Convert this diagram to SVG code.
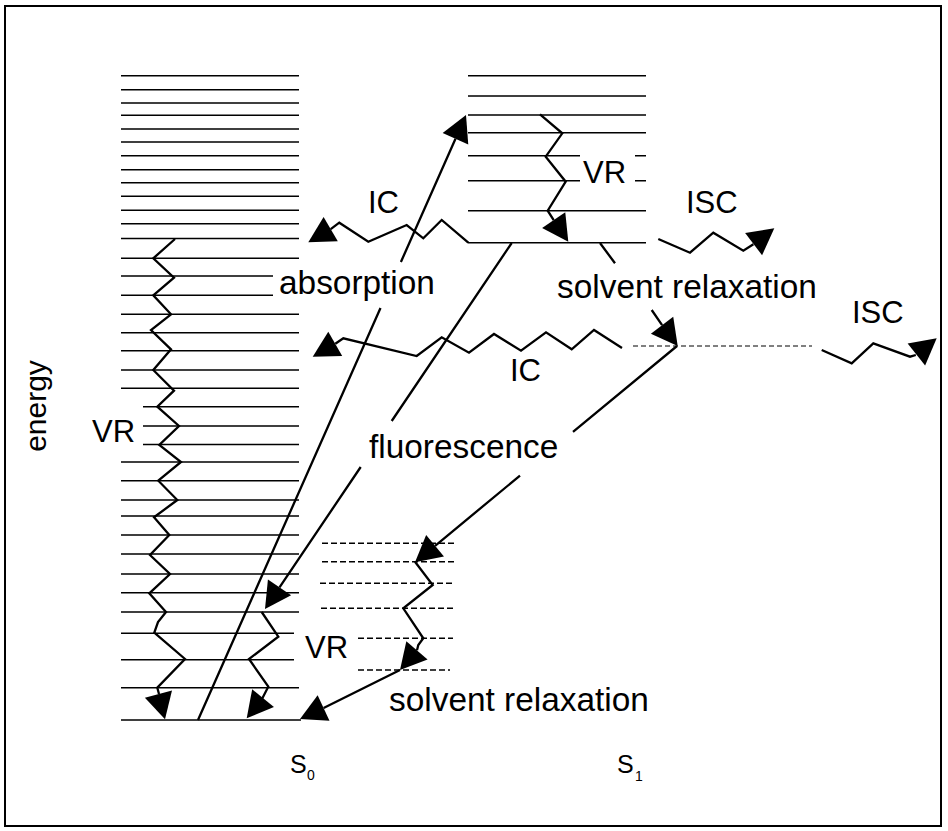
<svg xmlns="http://www.w3.org/2000/svg" xmlns:xlink="http://www.w3.org/1999/xlink" width="948" height="831" viewBox="0 0 948 831">
<style>
.lv{stroke:#000;stroke-width:1.6;fill:none}
.ds{stroke:#000;stroke-width:1.4;stroke-dasharray:6 3;fill:none}
.ds2{stroke:#000;stroke-width:1;stroke-dasharray:5 3;fill:none}
.ln{stroke:#000;stroke-width:2.3;fill:none;stroke-linejoin:miter}
.t{font-family:"Liberation Sans",Arial,sans-serif;font-size:33.4px;fill:#000}
.tc{font-family:"Liberation Sans",Arial,sans-serif;font-size:31px;fill:#000}
.ts{font-family:"Liberation Sans",Arial,sans-serif;font-size:25px;fill:#000}
.tsub{font-family:"Liberation Sans",Arial,sans-serif;font-size:14px;fill:#000}
</style>
<defs>
<path id="ah" d="M0,0 L-26,-14 L-26,14 Z" fill="#000"/>
</defs>
<rect x="5" y="6" width="936" height="820" fill="#fff" stroke="#000" stroke-width="2"/>

<g id="S0-levels">
<path class="lv" d="M121,75.7H299M121,89.7H299M121,103H299M121,115.3H299M121,129H299M121,142H299M121,155.7H299M121,169.7H299M121,182.7H299M121,196.3H299M121,210.3H299M121,223.7H299M121,238.5H299M121,258.3H299M121,276H273M121,295.3H273M121,314.3H299M121,332.7H299M121,350.7H299M121,370H299M121,388.3H299M143,406.7H299M143,426H299M143,444.5H299M121,462H299M121,480.7H299M121,500H299M121,516H299M121,535H299M121,554H299M121,574H299M121,592.7H299M121,612H299M121,633.3H294M121,659.7H294M121,687.7H299M121,720H301"/>
</g>
<g id="S1-levels">
<path class="lv" d="M468,75.7H646M468,96H646M468,115H646M468,132.7H646M468,155.7H580M635,155.7H646M468,180.7H580M635,180.7H646M468,210.7H646M468,242.7H646"/>
</g>
<g id="S1-solvated-levels">
<path class="ds2" d="M633,346H812"/>
<path class="ds" d="M322,543.3H455M322,561.7H455M320,583.3H453M321,608.3H455M358,638.3H453M358,670H450"/>
</g>

<g id="connectors">
<!-- VR in S0 (left) -->
<polyline class="ln" points="175,239 153.3,258.3 174,277.7 153.3,295.3 171,314.3 151,330 171,349.3 153.3,370 174,390.7 157.3,406.7 179,426 159.3,445 181,462 158.3,480.7 177.3,500 154,517.3 169.3,535 150,555 170,574 149.3,593.3 166,612 158,622 154.3,632.7 185,659 157.3,687.7 159,694"/>
<use xlink:href="#ah" transform="translate(165,719.3) rotate(75.4)"/>
<!-- VR in S0 (right) -->
<polyline class="ln" points="261.7,612 278.3,636.7 249,659 268.3,686.7 262,699"/>
<use xlink:href="#ah" transform="translate(246.7,718.3) rotate(129)"/>
<!-- absorption -->
<path class="ln" d="M198,720L380.5,308M400.9,262L455.5,138.8"/>
<use xlink:href="#ah" transform="translate(466,115) rotate(-66.1)"/>
<!-- fluorescence -->
<path class="ln" d="M511.7,243L391.7,421M360.7,467L279.5,587.4"/>
<use xlink:href="#ah" transform="translate(265,609) rotate(124)"/>
<!-- VR in S1 -->
<polyline class="ln" points="540,114.3 562.3,133.3 545.7,156.7 565.7,181.7 547.7,210.7 553.7,220.2"/>
<use xlink:href="#ah" transform="translate(568.3,241.7) rotate(55.8)"/>
<!-- IC upper -->
<polyline class="ln" points="468.3,242.7 441.7,220 423.3,238.3 406.7,225 368.3,241.7 339.3,222.7 330.7,229.1"/>
<use xlink:href="#ah" transform="translate(308.3,242.3) rotate(149.5)"/>
<!-- ISC upper -->
<polyline class="ln" points="658.3,239 690,252.7 713.3,232.7 743.3,250.7 753.4,244.2"/>
<use xlink:href="#ah" transform="translate(774.3,228.3) rotate(-37.3)"/>
<!-- ISC lower -->
<polyline class="ln" points="821.7,350 851.7,363.3 873.3,343.3 910,356.7 915.8,355"/>
<use xlink:href="#ah" transform="translate(936.7,338.3) rotate(-38.6)"/>
<!-- solvent relaxation upper -->
<path class="ln" d="M600,243L615,263.3M651.7,310L662.1,325.2"/>
<use xlink:href="#ah" transform="translate(677.7,346) rotate(53)"/>
<!-- IC middle -->
<polyline class="ln" points="622,348 594,330 571.7,349.3 546,332.3 521,350.7 494,334 469,352.7 441.7,337.3 416.7,356 343.3,338.3 335.3,343.8"/>
<use xlink:href="#ah" transform="translate(312.7,356.7) rotate(150.2)"/>
<!-- fluorescence from solvated S1 -->
<path class="ln" d="M677,346L573,431.9M520,475.6L435.1,545.8"/>
<use xlink:href="#ah" transform="translate(415,562.3) rotate(140.5)"/>
<!-- VR in solvated S1 -->
<polyline class="ln" points="415,561.7 432.7,585 403.3,608.3 423.3,638.3 418.3,645 417,650.3"/>
<use xlink:href="#ah" transform="translate(400,670) rotate(130.7)"/>
<!-- solvent relaxation lower -->
<path class="ln" d="M400,670L323.6,708"/>
<use xlink:href="#ah" transform="translate(300,719) rotate(155)"/>
</g>

<g id="labels">
<text class="tc" x="368" y="213">IC</text>
<text class="tc" x="686" y="213">ISC</text>
<text class="tc" x="583" y="183">VR</text>
<text class="t" x="279" y="294">absorption</text>
<text class="t" x="557" y="298">solvent relaxation</text>
<text class="tc" x="852" y="323">ISC</text>
<text class="tc" x="510" y="381">IC</text>
<text class="t" transform="translate(46,406) rotate(-90)" text-anchor="middle" style="font-size:30px">energy</text>
<text class="tc" x="92" y="441.7">VR</text>
<text class="t" x="369" y="458">fluorescence</text>
<text class="tc" x="305" y="658">VR</text>
<text class="t" x="389" y="711">solvent relaxation</text>
<text class="ts" x="290" y="773">S</text>
<text class="tsub" x="307" y="780">0</text>
<text class="ts" x="617" y="773">S</text>
<text class="tsub" x="635" y="781">1</text>
</g>
</svg>
